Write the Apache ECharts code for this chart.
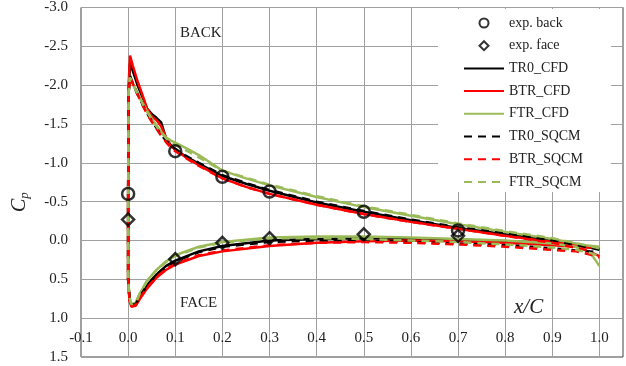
<!DOCTYPE html>
<html>
<head>
<meta charset="utf-8">
<script src="https://cdn.jsdelivr.net/npm/echarts@6/dist/echarts.min.js"></script>
<style>
  html, body { margin: 0; padding: 0; background: #fff; }
  #chart { width: 626px; height: 366px; }
</style>
</head>
<body>
<div id="chart"></div>
<script>
// x/C stations: back side runs trailing edge -> leading edge, face side leading edge -> trailing edge
var xBack = [1.0, 0.97, 0.9, 0.8, 0.7, 0.6, 0.5, 0.4, 0.3, 0.25, 0.2, 0.15, 0.12, 0.1, 0.09, 0.08, 0.07, 0.06, 0.05, 0.04, 0.03, 0.02, 0.01, 0.004, 0.001];
var xFace = [0.0, 0.0, 0.003, 0.007, 0.011, 0.016, 0.025, 0.04, 0.06, 0.08, 0.1, 0.15, 0.2, 0.3, 0.4, 0.5, 0.6, 0.7, 0.8, 0.9, 0.95, 0.98, 1.0];

// CFD
var tr0CfdBack = [0.10, 0.07, 0.0, -0.08, -0.16, -0.26, -0.37, -0.49, -0.64, -0.73, -0.83, -0.99, -1.09, -1.17, -1.23, -1.32, -1.52, -1.58, -1.63, -1.70, -1.85, -2.00, -2.18, -2.28, -1.90];
var tr0CfdFace = [-0.5, 0.5, 0.76, 0.83, 0.85, 0.82, 0.72, 0.58, 0.44, 0.33, 0.26, 0.14, 0.07, 0.0, -0.02, -0.03, -0.02, -0.01, 0.01, 0.04, 0.07, 0.09, 0.10];
var btrCfdBack = [0.10, 0.07, 0.02, -0.06, -0.15, -0.24, -0.34, -0.46, -0.60, -0.69, -0.80, -0.97, -1.08, -1.17, -1.22, -1.33, -1.47, -1.55, -1.60, -1.70, -1.88, -2.05, -2.25, -2.38, -2.00];
var btrCfdFace = [-0.5, 0.5, 0.78, 0.85, 0.87, 0.84, 0.75, 0.62, 0.48, 0.38, 0.31, 0.20, 0.14, 0.07, 0.03, 0.01, 0.0, 0.01, 0.03, 0.06, 0.08, 0.09, 0.10];
var ftrCfdBack = [0.08, 0.06, -0.02, -0.11, -0.21, -0.32, -0.43, -0.56, -0.71, -0.80, -0.90, -1.10, -1.20, -1.26, -1.29, -1.33, -1.40, -1.48, -1.57, -1.67, -1.78, -1.90, -2.02, -2.12, -1.90];
var ftrCfdFace = [-0.5, 0.5, 0.74, 0.82, 0.84, 0.80, 0.68, 0.52, 0.38, 0.27, 0.19, 0.08, 0.02, -0.04, -0.05, -0.05, -0.04, -0.02, 0.0, 0.04, 0.08, 0.15, 0.33];

// SQCM
var tr0SqcmBack = [0.12, 0.08, 0.0, -0.09, -0.17, -0.27, -0.38, -0.50, -0.65, -0.74, -0.84, -1.00, -1.10, -1.18, -1.23, -1.29, -1.36, -1.45, -1.54, -1.64, -1.76, -1.88, -2.02, -2.12, -1.90];
var tr0SqcmFace = [-0.5, 0.5, 0.75, 0.83, 0.85, 0.82, 0.72, 0.58, 0.44, 0.34, 0.27, 0.15, 0.08, 0.02, 0.0, 0.0, 0.02, 0.04, 0.06, 0.10, 0.13, 0.14, 0.15];
var btrSqcmBack = [0.20, 0.12, 0.03, -0.06, -0.15, -0.24, -0.34, -0.46, -0.60, -0.69, -0.80, -0.96, -1.07, -1.15, -1.20, -1.27, -1.35, -1.44, -1.53, -1.63, -1.75, -1.88, -2.02, -2.10, -1.90];
var btrSqcmFace = [-0.5, 0.5, 0.77, 0.85, 0.86, 0.83, 0.74, 0.61, 0.47, 0.37, 0.30, 0.19, 0.13, 0.06, 0.03, 0.02, 0.03, 0.05, 0.08, 0.12, 0.14, 0.18, 0.22];
var ftrSqcmBack = [0.10, 0.06, -0.03, -0.12, -0.22, -0.33, -0.44, -0.57, -0.72, -0.81, -0.90, -1.07, -1.17, -1.23, -1.27, -1.32, -1.39, -1.47, -1.56, -1.66, -1.77, -1.89, -2.01, -2.10, -1.90];
var ftrSqcmFace = [-0.5, 0.5, 0.74, 0.82, 0.84, 0.80, 0.68, 0.52, 0.38, 0.28, 0.20, 0.09, 0.03, -0.03, -0.03, -0.02, 0.0, 0.02, 0.05, 0.09, 0.12, 0.16, 0.20];

// experiments
var expX = [0.0, 0.1, 0.2, 0.3, 0.5, 0.7];
var expBack = [-0.60, -1.15, -0.82, -0.63, -0.37, -0.13];
var expFace = [-0.27, 0.24, 0.03, -0.03, -0.08, -0.06];

var FONT = '"Liberation Serif", "Times New Roman", serif';
var DIAMOND = 'path://M0,-1L1,0L0,1L-1,0Z';

function loop(back, face) {
  var pts = [];
  xBack.forEach(function(x, i) { pts.push([x, back[i]]) });
  xFace.forEach(function(x, i) { pts.push([x, face[i]]) });
  return pts;
}
function pairs(xs, ys) {
  return xs.map(function(x, i) { return [x, ys[i]] });
}
function curve(name, color, back, face, dashed) {
  return {
    name: name,
    type: 'line',
    symbol: 'none',
    smooth: false,
    data: loop(back, face),
    lineStyle: { color: color, width: 2.5, type: dashed ? [8, 6] : 'solid' },
    itemStyle: { color: color },
    z: dashed ? 3 : 2
  };
}
function lineItem(name) {
  return { name: name, itemStyle: { opacity: 0 } };
}

var chart = echarts.init(document.getElementById('chart'));
chart.setOption({
  backgroundColor: '#fff',
  animation: false,
  grid: { left: 81, top: 5, right: 3, bottom: 9, show: true, borderColor: '#404040', borderWidth: 1 },
  xAxis: {
    type: 'value',
    min: -0.1,
    max: 1.05,
    interval: 0.1,
    axisLine: { show: false },
    axisTick: { show: false },
    splitLine: { lineStyle: { color: '#a0a0a0', width: 1 } },
    axisLabel: {
      inside: true,
      margin: 11,
      showMaxLabel: false,
      color: '#222',
      fontFamily: FONT,
      fontSize: 15,
      formatter: function(v) { return v.toFixed(1) }
    }
  },
  yAxis: {
    type: 'value',
    inverse: true,
    min: -3,
    max: 1.5,
    interval: 0.5,
    axisLine: { show: false },
    axisTick: { show: false },
    splitLine: { lineStyle: { color: '#a0a0a0', width: 1 } },
    axisLabel: {
      margin: 13,
      color: '#222',
      fontFamily: FONT,
      fontSize: 15,
      formatter: function(v) { return v.toFixed(1) }
    }
  },
  legend: {
    orient: 'vertical',
    left: 438,
    top: 9,
    backgroundColor: '#fff',
    padding: [7, 28, 3, 25],
    itemWidth: 40,
    itemHeight: 9,
    itemGap: 8.7,
    symbolKeepAspect: true,
    textStyle: { color: '#222', fontFamily: FONT, fontSize: 14 },
    data: [
      { name: 'exp. back', icon: 'circle' },
      { name: 'exp. face', icon: DIAMOND },
      lineItem('TR0_CFD'), lineItem('BTR_CFD'), lineItem('FTR_CFD'),
      lineItem('TR0_SQCM'), lineItem('BTR_SQCM'), lineItem('FTR_SQCM')
    ]
  },
  graphic: [
    { type: 'text', left: 180, top: 26, style: { text: 'BACK', font: '15px ' + FONT, fill: '#222' } },
    { type: 'text', left: 180, top: 296, style: { text: 'FACE', font: '15px ' + FONT, fill: '#222' } },
    { type: 'text', left: 514, top: 297, style: { text: 'x/C', font: 'italic 21px ' + FONT, fill: '#222' } },
    {
      type: 'text', x: 8, y: 212, rotation: Math.PI / 2,
      style: {
        text: '{c|C}{p|p}',
        rich: {
          c: { font: 'italic 20px ' + FONT, fill: '#222' },
          p: { font: 'italic 13px ' + FONT, fill: '#222', padding: [10, 0, 0, 0] }
        }
      }
    }
  ],
  series: [
    curve('TR0_CFD', '#000000', tr0CfdBack, tr0CfdFace, false),
    curve('BTR_CFD', '#ff0000', btrCfdBack, btrCfdFace, false),
    curve('FTR_CFD', '#9bbb59', ftrCfdBack, ftrCfdFace, false),
    curve('TR0_SQCM', '#000000', tr0SqcmBack, tr0SqcmFace, true),
    curve('BTR_SQCM', '#ff0000', btrSqcmBack, btrSqcmFace, true),
    curve('FTR_SQCM', '#9bbb59', ftrSqcmBack, ftrSqcmFace, true),
    {
      name: 'exp. back',
      type: 'scatter',
      symbol: 'circle',
      symbolSize: 12,
      data: pairs(expX, expBack),
      itemStyle: { color: 'rgba(255,255,255,0)', borderColor: '#000', borderWidth: 2.5 },
      z: 5
    },
    {
      name: 'exp. face',
      type: 'scatter',
      symbol: DIAMOND,
      symbolSize: 12,
      data: pairs(expX, expFace),
      itemStyle: { color: 'rgba(255,255,255,0)', borderColor: '#000', borderWidth: 2.5 },
      z: 5
    }
  ]
});
</script>
</body>
</html>
